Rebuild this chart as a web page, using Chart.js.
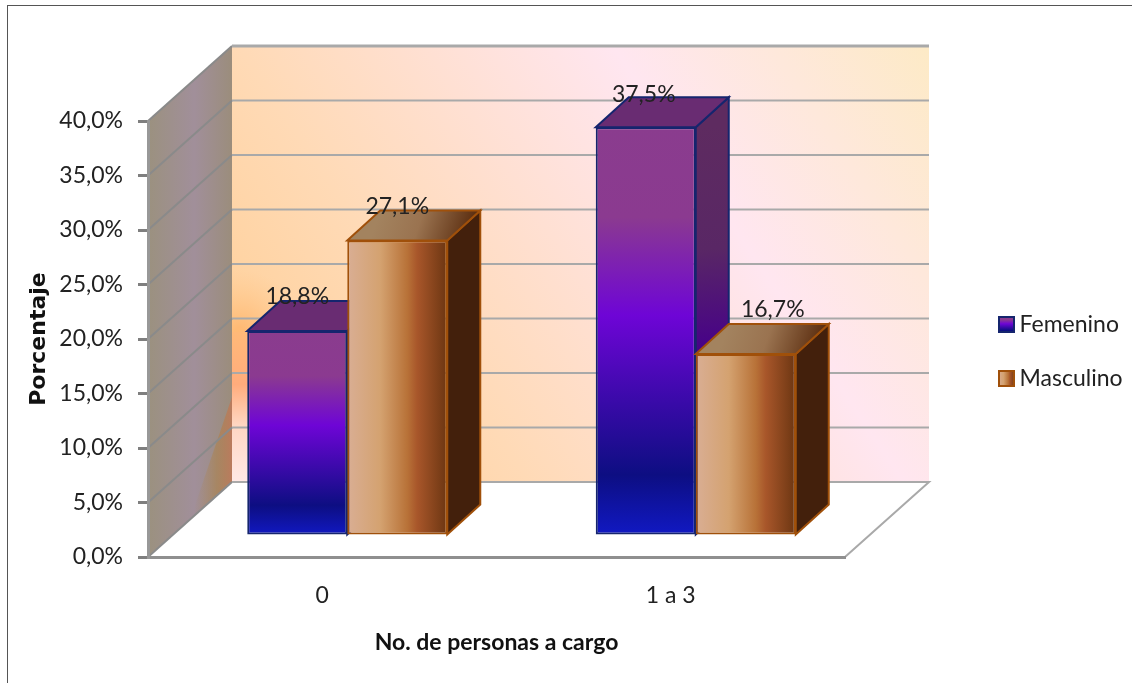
<!DOCTYPE html>
<html>
<head>
<meta charset="utf-8">
<title>Personas a cargo</title>
<style>
  html, body { margin: 0; padding: 0; background: #fff; overflow: hidden; }
  #frame { position: absolute; left: 7px; top: 5px; width: 1125px; height: 678px; border-left: 1px solid #555; border-top: 1px solid #555; box-sizing: border-box; }
  canvas { position: absolute; left: 0; top: 0; }
</style>
<script src="https://cdn.jsdelivr.net/npm/chart.js@4/dist/chart.umd.js"></script>
</head>
<body>
<div id="frame"></div>
<canvas id="chart" width="1132" height="683"></canvas>
<script>
const categories = ['0', '1 a 3'];
const femenino = [18.8, 37.5];
const masculino = [27.1, 16.7];
const tickLabels = ['0,0%', '5,0%', '10,0%', '15,0%', '20,0%', '25,0%', '30,0%', '35,0%', '40,0%'];

// 3D look: walls sit behind the axes, bars stand a bit forward of the back wall
const wallShift = { x: 84, y: -75 };
const barShift = { x: 25, y: -21 };
const barDepth = { x: 33, y: -30 };
const barGroupPct = 0.574;
const labelFont = '23px Lato';

// 16,7% sits off to the right of its bar
const labelNudge = [[{ x: 0, y: -35 }, { x: 0, y: -34 }], [{ x: -2, y: -33 }, { x: 27, y: -44 }]];

function stops(grad, list) {
  list.forEach(s => grad.addColorStop(s[0], s[1]));
  return grad;
}

const purpleStops = [[0, '#8a3c8e'], [0.22, '#8b3a90'], [0.46, '#6e05d6'], [0.85, '#0d0e82'], [1, '#1119c4']];
const copperStops = [[0, '#d9ae94'], [0.33, '#d4a270'], [0.6, '#b87238'], [0.7, '#a8562a'], [1, '#6c3612']];

function purpleFront(context) {
  const { chart, parsed } = context;
  if (!parsed) return '#6e05d6';
  const y = chart.scales.y;
  return stops(chart.ctx.createLinearGradient(0, y.getPixelForValue(parsed.y), 0, y.getPixelForValue(0)), purpleStops);
}

function copperFront(context) {
  const { chart, parsed } = context;
  if (!parsed) return '#a5552a';
  const x = chart.scales.x;
  const w = x.width / categories.length * barGroupPct / 2;
  const left = x.getPixelForValue(context.dataIndex);
  return stops(chart.ctx.createLinearGradient(left, 0, left + w, 0), copperStops);
}

function swatch(list, vertical) {
  const c = document.createElement('canvas');
  c.width = 17;
  c.height = 17;
  const g = c.getContext('2d');
  g.fillStyle = stops(vertical ? g.createLinearGradient(0, 0, 0, 17) : g.createLinearGradient(0, 0, 17, 0), list);
  g.fillRect(0, 0, 17, 17);
  g.strokeStyle = vertical ? '#15256e' : '#a0500a';
  g.lineWidth = 2;
  g.strokeRect(1, 1, 15, 15);
  return c;
}

function poly(ctx, pts, fill, stroke, width) {
  ctx.beginPath();
  pts.forEach((p, i) => i ? ctx.lineTo(p[0], p[1]) : ctx.moveTo(p[0], p[1]));
  ctx.closePath();
  if (fill) { ctx.fillStyle = fill; ctx.fill(); }
  if (stroke) { ctx.strokeStyle = stroke; ctx.lineWidth = width; ctx.stroke(); }
}

const wallsPlugin = {
  id: 'walls',
  beforeDraw(chart) {
    const { ctx, chartArea: a, scales } = chart;
    const dx = wallShift.x, dy = wallShift.y;
    const bx = a.left + dx, by = a.bottom + dy;
    ctx.save();

    // back wall
    const back = ctx.createLinearGradient(bx, by, bx + 684, by - 456);
    stops(back, [[0, '#ffcd90'], [0.3, '#ffdab6'], [0.68, '#ffe6f0'], [1, '#fdeac6']]);
    ctx.fillStyle = back;
    ctx.fillRect(bx, a.top + dy, a.width, a.height);

    // warm patch low on the left of the back wall
    const glow = ctx.createRadialGradient(bx + 8, by - 150, 5, bx + 8, by - 150, 62);
    stops(glow, [[0, 'rgba(255,185,115,0.95)'], [1, 'rgba(255,200,140,0)']]);
    ctx.fillStyle = glow;
    ctx.fillRect(bx, by - 215, 80, 215);
    const strip = ctx.createLinearGradient(0, by - 150, 0, by);
    stops(strip, [[0, '#ffb978'], [0.35, '#ffac7c'], [0.62, '#ffd6c2'], [1, '#ffe9e6']]);
    ctx.fillStyle = strip;
    ctx.fillRect(bx, by - 150, 18, 150);

    // side wall
    const side = ctx.createLinearGradient(a.left, 0, bx, 0);
    stops(side, [[0, '#9b917f'], [0.55, '#a18f9a'], [1, '#9b8d7c']]);
    poly(ctx, [[a.left, a.top], [bx, a.top + dy], [bx, by], [a.left, a.bottom]], side);
    const warm = ctx.createLinearGradient(bx - 38, 0, bx, 0);
    stops(warm, [[0, 'rgba(170,135,95,0)'], [0.6, 'rgba(172,130,80,0.65)'], [1, 'rgba(188,122,92,0.95)']]);
    poly(ctx, [[bx, by - 85], [bx, by], [bx - 42, by + 38]], warm);

    // floor
    poly(ctx, [[a.left, a.bottom], [bx, by], [a.right + dx, by], [a.right, a.bottom]], '#fff');
    ctx.strokeStyle = '#a9a9a9';
    ctx.lineWidth = 2;
    ctx.beginPath();
    ctx.moveTo(bx, by);
    ctx.lineTo(a.right + dx, by);
    ctx.lineTo(a.right, a.bottom);
    ctx.stroke();

    // gridlines run along the side wall and across the back wall
    scales.y.ticks.forEach(t => {
      const y = scales.y.getPixelForValue(t.value);
      ctx.lineWidth = 2;
      ctx.strokeStyle = '#8a8a8a';
      ctx.beginPath();
      ctx.moveTo(a.left, y);
      ctx.lineTo(bx, y + dy);
      ctx.stroke();
      ctx.strokeStyle = '#a9a9a9';
      ctx.lineWidth = t.value === 40 ? 3 : 2;
      ctx.beginPath();
      ctx.moveTo(bx, y + dy);
      ctx.lineTo(a.right + dx, y + dy);
      ctx.stroke();
    });
    ctx.restore();
  }
};

function drawBarFaces(ctx, meta, isPurple) {
  const edge = isPurple ? '#15256e' : '#a0500a';
  const bx = barDepth.x, by = barDepth.y;
  meta.data.forEach(bar => {
    const { x, y, base, width } = bar.getProps(['x', 'y', 'base', 'width']);
    const l = x - width / 2, r = x + width / 2;
    let sideFill = '#43200c', topFill;
    if (isPurple) {
      sideFill = stops(ctx.createLinearGradient(r, y, r + bx, base), [[0, '#5e2b60'], [0.3, '#592765'], [0.55, '#46008a'], [0.8, '#2a0a7a'], [1, '#0d0e60']]);
      topFill = '#692c72';
    } else {
      topFill = stops(ctx.createLinearGradient(l + bx, y + by, r + bx * 0.6, y), [[0, '#a3835f'], [0.45, '#9a7350'], [1, '#5c2e10']]);
    }
    poly(ctx, [[r, y], [r + bx, y + by], [r + bx, base + by], [r, base]], sideFill, edge, 2);
    poly(ctx, [[l, y], [l + bx, y + by], [r + bx, y + by], [r, y]], topFill, edge, 2);
  });
}

// Chart.js paints the first dataset last; Masculino has to cover Femenino here,
// so its normal turn is skipped and it gets painted after Femenino
const barFacesPlugin = {
  id: 'barFaces',
  beforeDatasetDraw(chart, args) {
    if (args.index === 1) return false;
    chart.ctx.save();
    chart.ctx.translate(barShift.x, barShift.y);
  },
  afterDatasetDraw(chart, args) {
    if (args.index === 1) return;
    const ctx = chart.ctx;
    drawBarFaces(ctx, args.meta, true);
    const second = chart.getDatasetMeta(1);
    second.controller.draw();
    drawBarFaces(ctx, second, false);
    ctx.restore();
  },
  afterDatasetsDraw(chart) {
    const ctx = chart.ctx;
    ctx.save();
    ctx.font = labelFont;
    ctx.fillStyle = '#222';
    ctx.textAlign = 'center';
    ctx.textBaseline = 'middle';
    chart.data.datasets.forEach((ds, d) => {
      chart.getDatasetMeta(d).data.forEach((bar, i) => {
        const n = labelNudge[i][d];
        const text = ds.data[i].toFixed(1).replace('.', ',') + '%';
        ctx.fillText(text, bar.x + barShift.x + n.x, bar.y + barShift.y + n.y);
      });
    });
    ctx.restore();
  }
};

const legendPlacer = {
  id: 'legendPlacer',
  beforeInit(chart) {
    // keep the plot clear of the legend: the legend box takes the whole right margin
    const fit = chart.legend.fit;
    chart.legend.fit = function () {
      fit.call(this);
      this.width = 287;
    };
  },
  afterLayout(chart) {
    const legend = chart.legend;
    legend.left = 1005 - legend.options.labels.padding;
    legend.top = 282;
  }
};

new Chart(document.getElementById('chart'), {
  type: 'bar',
  data: {
    labels: categories,
    datasets: [
      { label: 'Femenino', data: femenino, backgroundColor: purpleFront, borderColor: '#15256e' },
      { label: 'Masculino', data: masculino, backgroundColor: copperFront, borderColor: '#a0500a' }
    ]
  },
  plugins: [wallsPlugin, barFacesPlugin, legendPlacer],
  options: {
    responsive: false,
    animation: false,
    layout: { padding: { left: 0, top: 121, right: 0, bottom: 0 } },
    datasets: { bar: { categoryPercentage: barGroupPct, barPercentage: 1, borderWidth: 2, borderSkipped: false, clip: false } },
    scales: {
      x: {
        grid: { display: false },
        border: { color: '#8f8f8f', width: 3 },
        ticks: { color: '#222', font: { family: 'Lato', size: 23 }, padding: 17 },
        title: { display: true, text: 'No. de personas a cargo', color: '#111', font: { family: 'Lato', size: 23, weight: 'bold' }, padding: { top: 0, bottom: 27 } },
        afterFit(scale) { scale.height = 126; }
      },
      y: {
        min: 0,
        max: 40,
        grid: { drawOnChartArea: false, tickLength: 10, color: '#7f7f7f', lineWidth: 3 },
        border: { color: '#989898', width: 3 },
        ticks: {
          stepSize: 5,
          color: '#222',
          font: { family: 'Lato', size: 23 },
          padding: 15,
          callback: (value, i) => tickLabels[i]
        },
        title: { display: true, text: 'Porcentaje', color: '#111', font: { family: 'DejaVu Sans', size: 22, weight: 'bold' }, padding: { top: 26, bottom: 0 } },
        afterFit(scale) { scale.width = 148; }
      }
    },
    plugins: {
      tooltip: { enabled: false },
      legend: {
        position: 'right',
        align: 'start',
        labels: {
          color: '#222',
          font: { family: 'Lato', size: 23 },
          padding: 31,
          boxWidth: 3,
          usePointStyle: true,
          generateLabels(chart) {
            return chart.data.datasets.map((ds, i) => ({
              text: ds.label,
              fontColor: '#222',
              datasetIndex: i,
              pointStyle: swatch(i === 0 ? purpleStops : copperStops, i === 0)
            }));
          }
        }
      }
    }
  }
});
</script>
</body>
</html>
